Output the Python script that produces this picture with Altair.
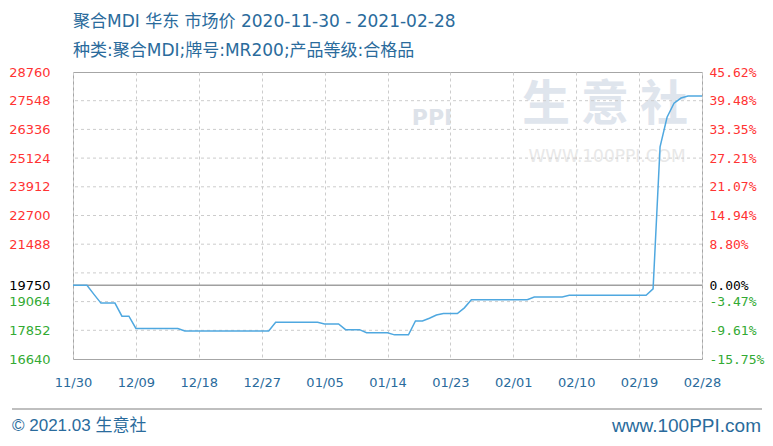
import altair as alt
import pandas as pd

# ---------------- data ----------------
dates = ["2020-11-30", "2020-12-02", "2020-12-03", "2020-12-04", "2020-12-06", "2020-12-07",
         "2020-12-08", "2020-12-09", "2020-12-15", "2020-12-16", "2020-12-28", "2020-12-29",
         "2021-01-04", "2021-01-05", "2021-01-07", "2021-01-08", "2021-01-10", "2021-01-11",
         "2021-01-14", "2021-01-15", "2021-01-17", "2021-01-18", "2021-01-19", "2021-01-20",
         "2021-01-21", "2021-01-22", "2021-01-24", "2021-01-25", "2021-01-26", "2021-02-03",
         "2021-02-04", "2021-02-08", "2021-02-09", "2021-02-20", "2021-02-21", "2021-02-22",
         "2021-02-23", "2021-02-24", "2021-02-25", "2021-02-26", "2021-02-28"]
prices = [19750, 19750, 19370, 19000, 19000, 18450,
          18450, 17930, 17930, 17820, 17820, 18190,
          18190, 18120, 18120, 17880, 17880, 17750,
          17750, 17660, 17660, 18245, 18245, 18360,
          18500, 18560, 18560, 18800, 19140, 19140,
          19260, 19260, 19330, 19330, 19600, 25600,
          26850, 27440, 27660, 27750, 27750]

base_price = 19750
y_ticks = [16640, 17852, 19064, 19750, 21488, 22700, 23912, 25124, 26336, 27548, 28760]
grid_values = [17852, 19064, 20276, 21488, 22700, 23912, 25124, 26336, 27548]
x_ticks = ["2020-11-30", "2020-12-09", "2020-12-18", "2020-12-27", "2021-01-05", "2021-01-14",
           "2021-01-23", "2021-02-01", "2021-02-10", "2021-02-19", "2021-02-28"]
x_domain = ["2020-11-30", "2021-02-28"]
y_domain = [16640, 28760]

title_lines = ["聚合MDI 华东 市场价 2020-11-30 - 2021-02-28",
               "种类:聚合MDI;牌号:MR200;产品等级:合格品"]
footer_left = "© 2021.03 生意社"
footer_right = "www.100PPI.com"
watermark_big = "生 意 社"
watermark_small = "WWW.100PPI.COM"
watermark_logo = "PPI"

# ---------------- helpers ----------------
def dt(s):
    y, m, d = (int(p) for p in s.split("-"))
    return alt.DateTime(year=y, month=m, date=d)

df = pd.DataFrame({"date": [d + "T00:00:00" for d in dates], "price": prices})
grid_df = pd.DataFrame({"g": grid_values})
base_df = pd.DataFrame({"b": [base_price]})

BLUE = "#2a6b9c"
RED = "#ff3333"
GREEN = "#33aa33"

yscale = alt.Scale(domain=y_domain, nice=False, zero=False)
xscale = alt.Scale(domain=[dt(x_domain[0]), dt(x_domain[1])], nice=False)

label_color = {
    "condition": [
        {"test": f"datum.value > {base_price}", "value": RED},
        {"test": f"datum.value < {base_price}", "value": GREEN},
    ],
    "value": "#000000",
}

left_axis = alt.Axis(orient="left", values=y_ticks, format="d", grid=False, ticks=False, domain=False,
                     labelFont="DejaVu Sans", labelFontSize=13, labelPadding=23,
                     labelColor=label_color, labelBaseline="middle", title=None)
right_axis = alt.Axis(orient="right", values=y_ticks, grid=False, ticks=False, domain=False,
                      labelFont="DejaVu Sans Mono", labelFontSize=13, labelPadding=7,
                      labelColor=label_color, labelBaseline="middle", title=None,
                      labelExpr=(f"(datum.value < {base_price} ? '-' : '') + "
                                 f"format(abs(datum.value - {base_price}) / {base_price} * 100, '.2f') + '%'"))
x_axis = alt.Axis(values=[dt(s) for s in x_ticks], format="%m/%d", grid=True,
                  gridDash=[3, 3], gridColor="#cccccc", ticks=False, domain=False,
                  labelFont="DejaVu Sans", labelFontSize=13, labelColor=BLUE,
                  labelFlush=False, labelOverlap=False, labelBound=False,
                  labelPadding=17, title=None)

grid = alt.Chart(grid_df).mark_rule(color="#cccccc", strokeDash=[3, 3], strokeWidth=1).encode(
    y=alt.Y("g:Q", scale=yscale, axis=right_axis))

base = alt.Chart(base_df).mark_rule(color="#a0a0a0", strokeWidth=1.5).encode(
    y=alt.Y("b:Q", scale=yscale, axis=None))

line = alt.Chart(df).mark_line(color="#4fa8e0", strokeWidth=1.5, interpolate="linear").encode(
    x=alt.X("date:T", scale=xscale, axis=x_axis),
    y=alt.Y("price:Q", scale=yscale, axis=left_axis))


def text_layer(txt, x, y, size, color, font, align="left", weight="normal"):
    return alt.Chart(pd.DataFrame({"t": [txt]})).mark_text(
        align=align, baseline="middle", fontSize=size, color=color, font=font,
        fontWeight=weight).encode(x=alt.value(x), y=alt.value(y), text="t:N")


wm1 = text_layer(watermark_big, 532, 34, 48, "#dfe5ed", "Noto Sans CJK SC", align="center", weight="bold")
wm2 = text_layer(watermark_small, 534, 85, 17, "#e8e8e8", "DejaVu Sans", align="center")
wm3 = text_layer(watermark_logo, 359, 46, 22, "#dde2e9", "DejaVu Sans", align="center", weight="bold")

TITLE_FONT = "DejaVu Sans, Noto Sans CJK SC"
t1 = text_layer(title_lines[0], 0, -50, 17, BLUE, TITLE_FONT)
t2 = text_layer(title_lines[1], 0, -21, 17, BLUE, TITLE_FONT)

f_line = alt.Chart(base_df).mark_rule(color="#aaaaaa", strokeWidth=1.5).encode(
    x=alt.value(-61), x2=alt.value(689), y=alt.value(337))
f1 = text_layer(footer_left, -61, 354, 17, BLUE, "Liberation Sans, Noto Sans CJK SC")
f2 = text_layer(footer_right, 688, 354, 19, BLUE, "Liberation Sans", align="right")

chart = alt.layer(wm1, wm2, wm3, grid, base, line, t1, t2, f_line, f1, f2).resolve_scale(
    y="independent").properties(
    width=629, height=287, autosize="none",
    padding={"left": 65, "top": 64, "right": 63, "bottom": 79},
    background="white",
).configure_view(stroke="#a6a6a6", strokeWidth=1)

chart.save("out.html", embed_options={"renderer": "svg", "actions": False})
